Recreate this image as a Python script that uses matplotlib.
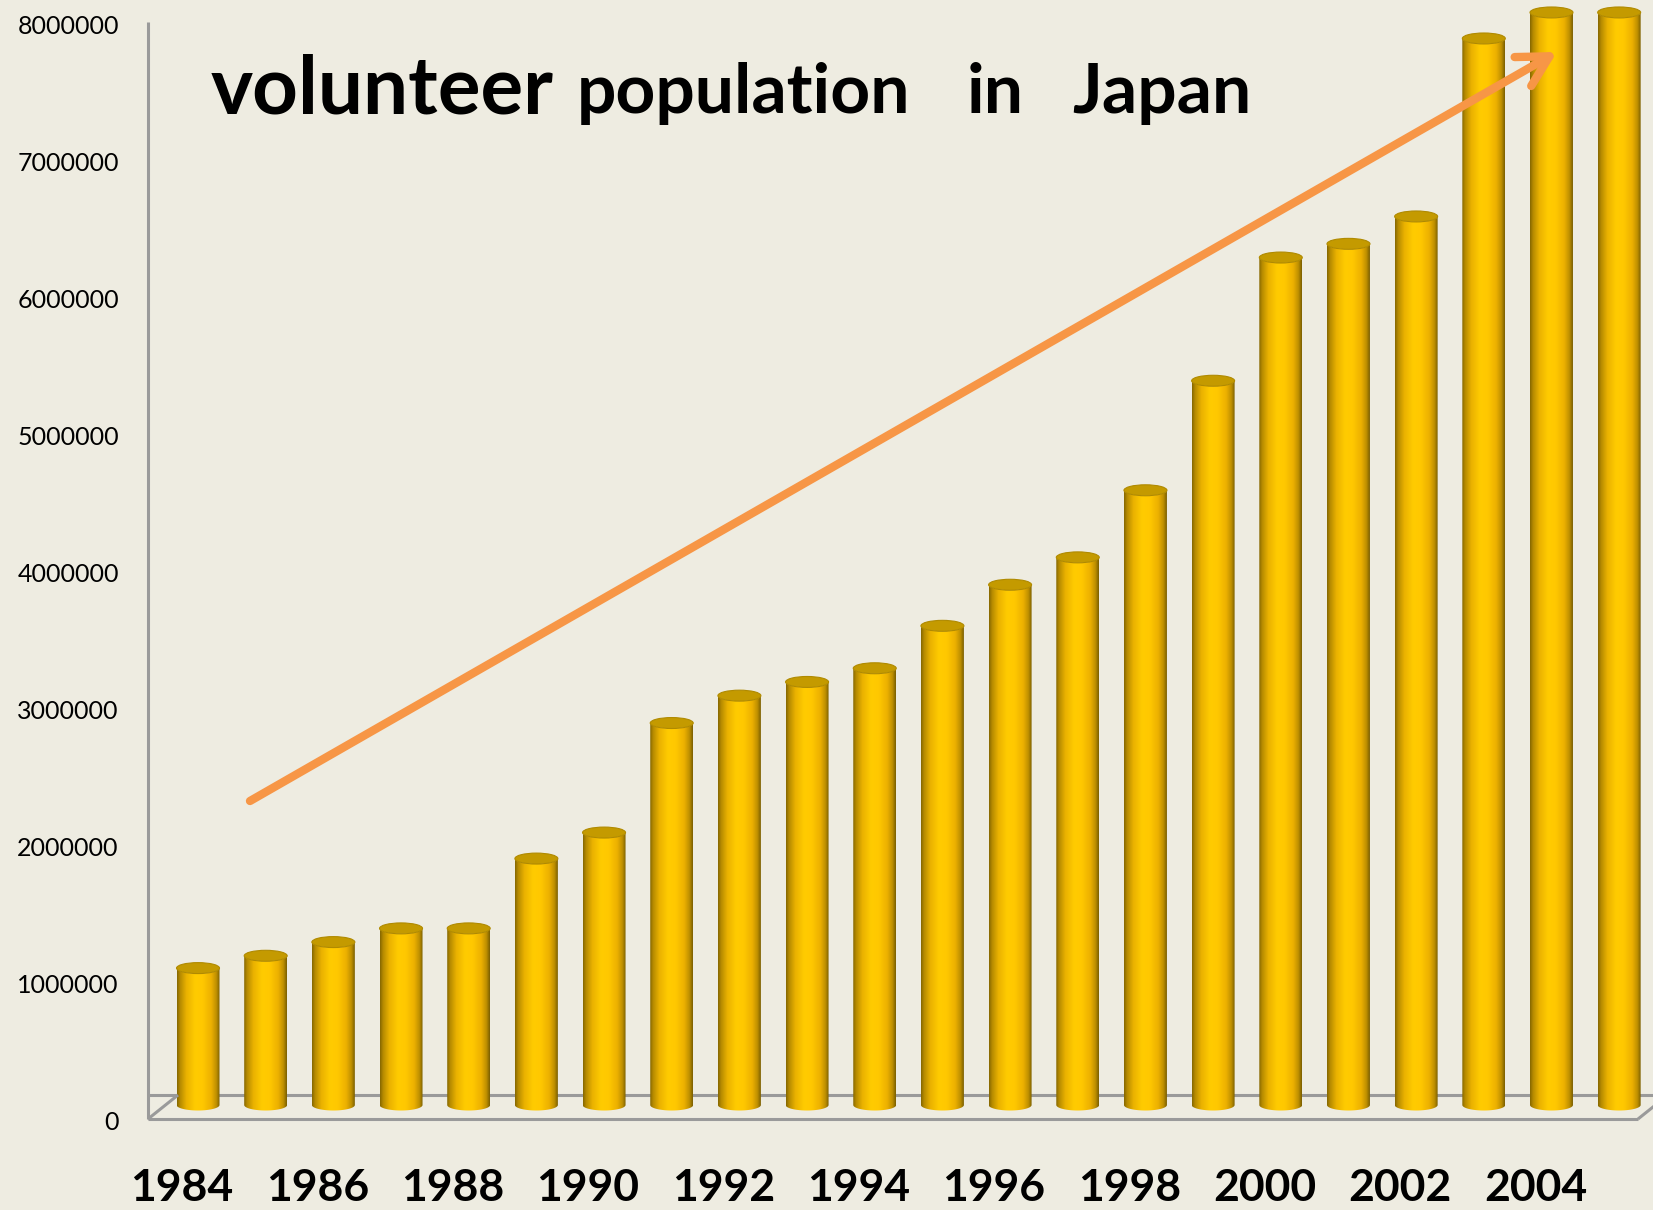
import numpy as np
import matplotlib
matplotlib.use("Agg")
import matplotlib.pyplot as plt
from matplotlib.patches import Ellipse, PathPatch
from matplotlib.path import Path
from matplotlib.lines import Line2D
from matplotlib.colors import LinearSegmentedColormap
import matplotlib.transforms as mtransforms

# ---------------- data ----------------
years = list(range(1984, 2006))
volunteers = [1000000, 1090000, 1190000, 1290000, 1290000, 1800000, 1990000,
              2790000, 2990000, 3090000, 3190000, 3500000, 3800000, 4000000,
              4490000, 5290000, 6190000, 6290000, 6490000, 7790000, 7980000,
              7980000]
ytick_values = [0, 1000000, 2000000, 3000000, 4000000, 5000000, 6000000,
                7000000, 8000000]
xtick_years = years[::2]
title_words = ["volunteer", "population", "in", "Japan"]

# ---------------- style ----------------
W, H = 1653, 1210
BG = "#EEECE1"
AXIS_GRAY = "#9A9A9A"
ARROW = "#F79646"
plt.rcParams["font.family"] = ["Lato", "DejaVu Sans"]

fig = plt.figure(figsize=(W / 100, H / 100), dpi=100, facecolor=BG)
ax = fig.add_axes([148 / W, (H - 1125) / H, (W - 148) / W, 1125 / H])
ax.set_facecolor("none")
for s in ax.spines.values():
    s.set_visible(False)

xpos = np.arange(len(years))
ax.set_xlim(-0.739, 21.50)
ax.set_ylim(-146000, 8071000)

bar_w = 0.635
ell_h = 80000  # elliptical cap height in data units

cyl = LinearSegmentedColormap.from_list(
    "cyl",
    [(0.0, "#846600"), (0.07, "#B58A00"), (0.22, "#EAB200"), (0.42, "#FFCB00"),
     (0.6, "#FFC800"), (0.8, "#ECB000"), (0.92, "#BD8F00"), (1.0, "#7A5E00")])
grad = np.linspace(0, 1, 256).reshape(1, -1)

bars = ax.bar(xpos, volunteers, width=bar_w, color="none", edgecolor="none", zorder=2)

t_low = np.linspace(np.pi, 2 * np.pi, 40)
for b in bars:
    x0 = b.get_x()
    w = b.get_width()
    x1 = x0 + w
    xc = x0 + w / 2
    v = b.get_height()
    verts = [(x0, v), (x0, 0)]
    verts += [(xc + w / 2 * np.cos(t), ell_h / 2 * np.sin(t)) for t in t_low]
    verts += [(x1, v)]
    verts += [(xc + w / 2 * np.cos(t), v + ell_h / 2 * np.sin(t)) for t in t_low[::-1]]
    verts += [(x0, v)]
    codes = [Path.MOVETO] + [Path.LINETO] * (len(verts) - 2) + [Path.CLOSEPOLY]
    body = PathPatch(Path(verts, codes), transform=ax.transData,
                     facecolor="none", edgecolor="none")
    ax.add_patch(body)
    im = ax.imshow(grad, cmap=cyl, extent=(x0, x1, -ell_h, v + ell_h),
                   aspect="auto", origin="lower", zorder=3, interpolation="bilinear")
    im.set_clip_path(body)
    ax.add_patch(Ellipse((xc, v), w, ell_h, facecolor="#C49A00",
                         edgecolor="#B08A00", lw=0.8, zorder=4))

ax.set_xlim(-0.739, 21.50)
ax.set_ylim(-146000, 8071000)

# ticks
ax.set_yticks(ytick_values)
ax.set_yticklabels([str(v) for v in ytick_values])
ax.tick_params(axis="y", length=0, pad=21, labelsize=18, labelcolor="black")
ax.set_xticks(xpos[::2])
ax.set_xticklabels([str(y) for y in xtick_years])
ax.tick_params(axis="x", length=0, pad=31, labelsize=32, labelcolor="black")
for lbl in ax.get_xticklabels():
    lbl.set_fontweight("bold")
    lbl.set_transform(lbl.get_transform() +
                      mtransforms.ScaledTranslation(-0.16, 0, fig.dpi_scale_trans))
for lbl in ax.get_yticklabels():
    lbl.set_transform(lbl.get_transform() +
                      mtransforms.ScaledTranslation(0, -0.15, fig.dpi_scale_trans))

# 3D floor / axis lines (decoration, in figure pixels)
def pix_line(xs, ys, z=5, lw=2.2):
    ln = Line2D([x / W for x in xs], [1 - y / H for y in ys], transform=fig.transFigure,
                color=AXIS_GRAY, lw=lw, zorder=z, solid_capstyle="butt")
    fig.add_artist(ln)

pix_line([148, 1653], [1095, 1095], z=-1)
pix_line([148, 148], [22, 1119])
pix_line([148, 1638], [1119, 1119])
pix_line([148, 178], [1119, 1095])
pix_line([1638, 1668], [1119, 1095])

# title
fig.text(211 / W, 1 - 113 / H, title_words[0], fontsize=57.5, fontweight="bold",
         ha="left", va="baseline")
fig.text(577 / W, 1 - 113 / H, title_words[1], fontsize=50, fontweight="bold",
         ha="left", va="baseline")
fig.text(967 / W, 1 - 113 / H, title_words[2], fontsize=50, fontweight="bold",
         ha="left", va="baseline")
fig.text(1072 / W, 1 - 113 / H, title_words[3], fontsize=50, fontweight="bold",
         ha="left", va="baseline")

# trend arrow
ax.annotate("", xy=(1557, H - 52), xytext=(250, H - 801),
            xycoords="figure pixels", textcoords="figure pixels",
            arrowprops=dict(arrowstyle="->,head_length=22,head_width=12",
                            color=ARROW, lw=6, shrinkA=0, shrinkB=0,
                            mutation_scale=1, capstyle="round", joinstyle="round"),
            zorder=6, annotation_clip=False)

fig.savefig("out.png", dpi=100, facecolor=BG)
